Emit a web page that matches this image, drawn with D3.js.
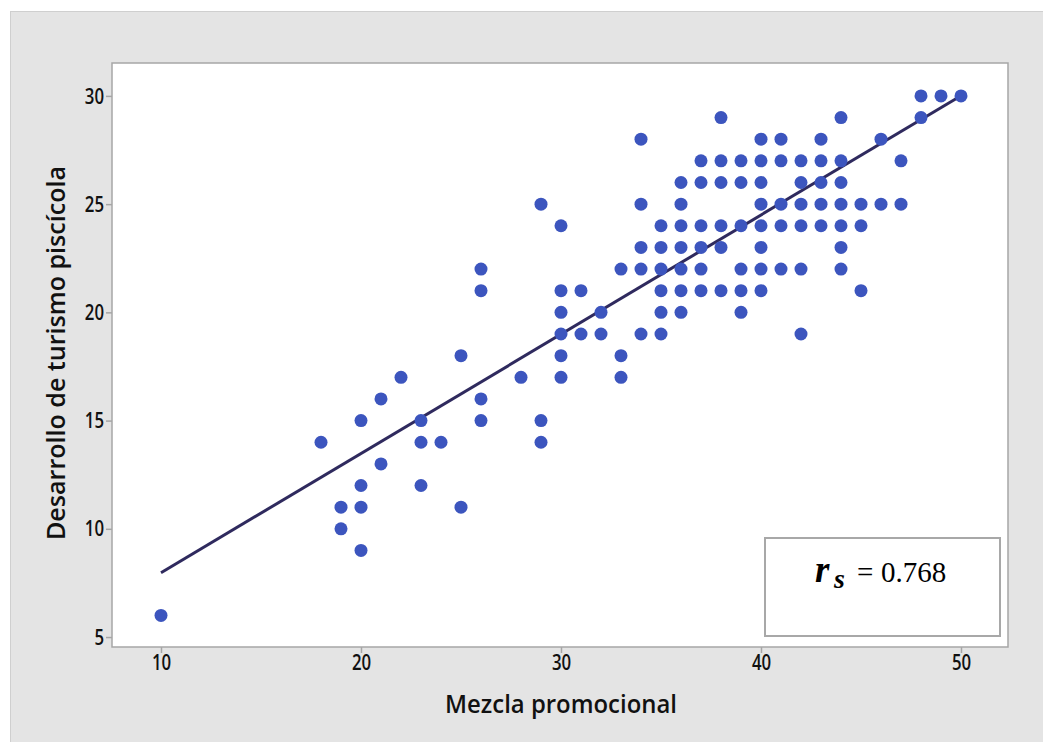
<!DOCTYPE html>
<html>
<head>
<meta charset="utf-8">
<script src="https://cdn.jsdelivr.net/npm/d3@7"></script>
<style>
  html, body { margin: 0; padding: 0; background: #ffffff; }
  svg { display: block; }
</style>
</head>
<body>
<svg id="chart" width="1043" height="742"></svg>
<script>
// Mezcla promocional (x) and Desarrollo de turismo piscícola (y), one entry per respondent
const promoMix = [
  48, 49, 50,
  38, 44, 48,
  34, 40, 41, 43, 46,
  37, 38, 39, 40, 41, 42, 43, 44, 47,
  36, 37, 38, 39, 40, 42, 43, 44,
  29, 34, 36, 40, 41, 42, 43, 44, 45, 46, 47,
  30, 35, 36, 37, 38, 39, 40, 41, 42, 43, 44, 45,
  34, 35, 36, 37, 38, 40, 44,
  26, 33, 34, 35, 36, 37, 39, 40, 41, 42, 44,
  26, 30, 31, 35, 36, 37, 38, 39, 40, 45,
  30, 32, 35, 36, 39,
  30, 31, 32, 34, 35, 42,
  25, 30, 33,
  22, 28, 30, 33,
  21, 26,
  20, 23, 26, 29,
  18, 23, 24, 29,
  21,
  20, 23,
  19, 20, 25,
  19,
  20,
  10
];
const fishTourism = [
  30, 30, 30,
  29, 29, 29,
  28, 28, 28, 28, 28,
  27, 27, 27, 27, 27, 27, 27, 27, 27,
  26, 26, 26, 26, 26, 26, 26, 26,
  25, 25, 25, 25, 25, 25, 25, 25, 25, 25, 25,
  24, 24, 24, 24, 24, 24, 24, 24, 24, 24, 24, 24,
  23, 23, 23, 23, 23, 23, 23,
  22, 22, 22, 22, 22, 22, 22, 22, 22, 22, 22,
  21, 21, 21, 21, 21, 21, 21, 21, 21, 21,
  20, 20, 20, 20, 20,
  19, 19, 19, 19, 19, 19,
  18, 18, 18,
  17, 17, 17, 17,
  16, 16,
  15, 15, 15, 15,
  14, 14, 14, 14,
  13,
  12, 12,
  11, 11, 11,
  10,
  9,
  6
];

// Tick values of both axes
const xTicks = [10, 20, 30, 40, 50];
const yTicks = [5, 10, 15, 20, 25, 30];

// Fitted line (y = a + b·x) over the observed x range, and Spearman's coefficient
const fitIntercept = 2.46;
const fitSlope = 0.551;
const fitRange = [10, 50];
const spearman = "0.768";

const xTitle = "Mezcla promocional";
const yTitle = "Desarrollo de turismo piscícola";

const svg = d3.select("#chart");

// Outer panel
svg.append("rect")
  .attr("x", 10.5).attr("y", 11.5)
  .attr("width", 1040).attr("height", 740)
  .attr("fill", "#e4e4e4")
  .attr("stroke", "#cfcfcf").attr("stroke-width", 1);

const plot = { left: 112, top: 63, right: 1008, bottom: 647 };

const x = d3.scaleLinear().domain([7.55, 52.35]).range([plot.left, plot.right]);
const y = d3.scaleLinear().domain([4.54, 31.52]).range([plot.bottom, plot.top]);

// Data region
svg.append("rect")
  .attr("x", plot.left).attr("y", plot.top)
  .attr("width", plot.right - plot.left).attr("height", plot.bottom - plot.top)
  .attr("fill", "#ffffff")
  .attr("stroke", "#a6a6a6").attr("stroke-width", 1.5);

const font = "'Open Sans', 'Noto Sans', sans-serif";

// X axis
const gx = svg.append("g")
  .attr("transform", `translate(0,${plot.bottom})`)
  .call(d3.axisBottom(x).tickValues(xTicks).tickSize(6).tickPadding(2).tickFormat(d3.format("d")));
gx.select(".domain").remove();
gx.selectAll(".tick line").attr("stroke", "#a6a6a6").attr("stroke-width", 1.5);
gx.selectAll(".tick text")
  .attr("fill", "#111")
  .style("font-family", font).style("font-size", "21px").style("font-weight", 600)
  .attr("transform", "scale(0.8,1)");

// Y axis
const gy = svg.append("g")
  .attr("transform", `translate(${plot.left},0)`)
  .call(d3.axisLeft(y).tickValues(yTicks).tickSize(6).tickPadding(4).tickFormat(d3.format("d")));
gy.select(".domain").remove();
gy.selectAll(".tick line").attr("stroke", "#a6a6a6").attr("stroke-width", 1.5);
gy.selectAll(".tick text")
  .attr("fill", "#111")
  .attr("dy", "0.34em")
  .style("font-family", font).style("font-size", "21px").style("font-weight", 600)
  .attr("transform", "scale(0.8,1)");

// Axis titles
svg.append("text")
  .attr("transform", `translate(${x(30)},713) scale(0.92,1)`)
  .attr("text-anchor", "middle")
  .attr("fill", "#111")
  .style("font-family", font).style("font-size", "26px").style("font-weight", 600)
  .text(xTitle);

svg.append("text")
  .attr("transform", `translate(65,353) rotate(-90) scale(0.965,1)`)
  .attr("text-anchor", "middle")
  .attr("fill", "#111")
  .style("font-family", font).style("font-size", "26px").style("font-weight", 600)
  .text(yTitle);

// Regression line
const line = d3.line().x(d => x(d)).y(d => y(fitIntercept + fitSlope * d));
svg.append("path")
  .datum(fitRange)
  .attr("d", line)
  .attr("fill", "none")
  .attr("stroke", "#2f2a5e")
  .attr("stroke-width", 3);

// Observations
const points = promoMix.map((v, i) => ({ x: v, y: fishTourism[i] }));
svg.append("g")
  .selectAll("circle")
  .data(points)
  .join("circle")
  .attr("cx", d => x(d.x))
  .attr("cy", d => y(d.y))
  .attr("r", 6.5)
  .attr("fill", "#3c55be");

// Coefficient box
const box = svg.append("g");
box.append("rect")
  .attr("x", 765).attr("y", 538)
  .attr("width", 235).attr("height", 98)
  .attr("fill", "#ffffff")
  .attr("stroke", "#a8a8a8").attr("stroke-width", 2);

const label = box.append("text")
  .attr("y", 582)
  .attr("fill", "#000")
  .style("font-family", "'Liberation Serif', 'DejaVu Serif', serif");
label.append("tspan")
  .attr("x", 815)
  .style("font-size", "37px").style("font-weight", "bold").style("font-style", "italic")
  .text("r");
label.append("tspan")
  .attr("x", 834).attr("dy", 6)
  .style("font-size", "28px").style("font-weight", "bold").style("font-style", "italic")
  .text("s");
label.append("tspan")
  .attr("x", 857).attr("dy", -6)
  .style("font-size", "29px")
  .text("=");
label.append("tspan")
  .attr("x", 881)
  .style("font-size", "29px")
  .text(spearman);
</script>
</body>
</html>
